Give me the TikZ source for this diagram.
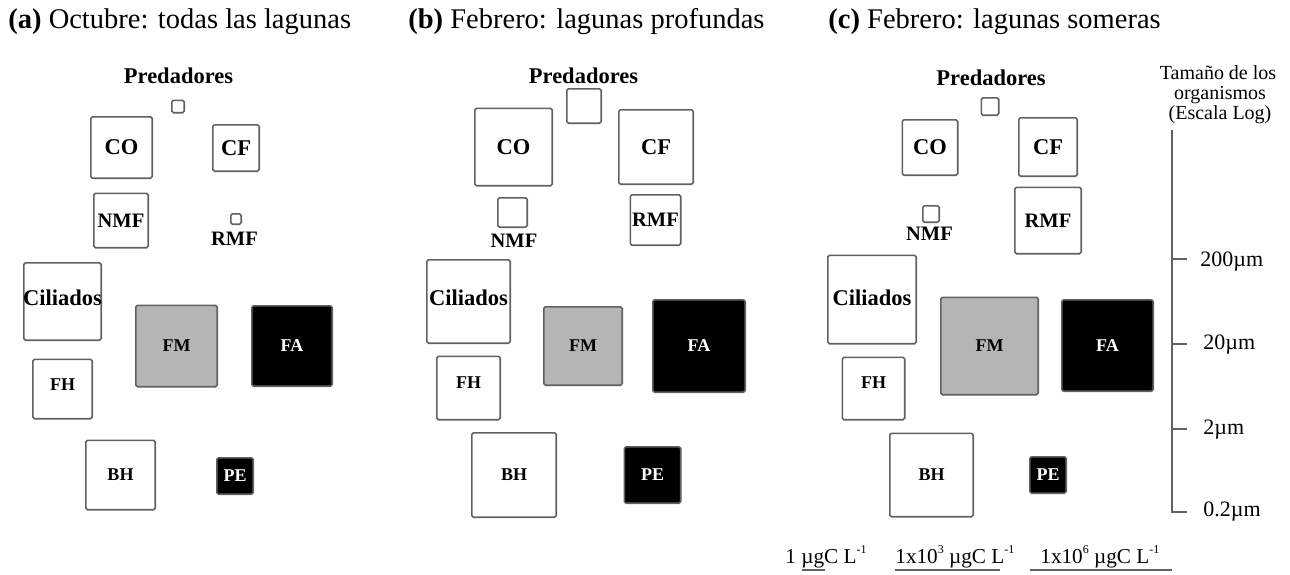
\documentclass[tikz,border=0pt]{standalone}
\usepackage{fontspec}
\setmainfont{Liberation Serif}
\definecolor{bord}{gray}{0.38}
\definecolor{fmgray}{gray}{0.71}
\newcommand{\tinysup}[1]{\raisebox{0.95ex}{\fontsize{6}{6}\selectfont #1}}
\begin{document}
\begin{tikzpicture}[x=0.5pt,y=-0.5pt,
  sq/.style={draw=bord, line width=0.8pt, rounded corners=0.8pt, inner sep=0pt, minimum size=(#1-1.6)*0.5pt},
  big/.style={font=\fontsize{11.25}{13}\selectfont\bfseries},
  mid/.style={font=\fontsize{10.25}{12}\selectfont\bfseries},
  small/.style={font=\fontsize{9}{10}\selectfont\bfseries},
  lbl/.style={inner sep=0pt},
  dark/.style={fill=black, text=white},
  mfill/.style={fill=fmgray},
  ttl/.style={anchor=base west, inner sep=0pt, font=\fontsize{14.25}{17}\selectfont},
  axl/.style={anchor=base west, inner sep=0pt, font=\fontsize{11}{13}\selectfont},
  tam/.style={anchor=base, inner sep=0pt, font=\fontsize{10}{12}\selectfont},
  leg/.style={anchor=base west, inner sep=0pt, font=\fontsize{10.6}{12}\selectfont},
  axis/.style={draw=bord, line width=0.8pt},
  uline/.style={draw=bord, line width=0.7pt}]
\useasboundingbox (0,0) rectangle (1290,574);

% titles
\node[ttl] (ta) at (8,28) {\textbf{(a)} Octubre: todas las lagunas};
\node[ttl] (tb) at (408,28) {\textbf{(b)} Febrero: lagunas profundas};
\node[ttl] (tc) at (828,28) {\textbf{(c)} Febrero: lagunas someras};

% ---------- panel (a)
\node[lbl,big] (aPredL) at (178.5,76) {Predadores};
\node[sq=14] (aPred) at (178,106.5) {};
\node[sq=63,big] (aCO) at (121.5,147.5) {CO};
\node[sq=48,big] (aCF) at (236,148) {CF};
\node[sq=56,mid] (aNMF) at (121,220.5) {NMF};
\node[sq=12] (aRMF) at (236,219) {};
\node[lbl,mid] (aRMFL) at (234.5,239) {RMF};
\node[sq=79] (aCil) at (62.5,301.5) {};
\node[lbl,big] (aCilL) at (62.5,298) {Ciliados};
\node[sq=83,mfill,small] (aFM) at (176.5,346) {FM};
\node[sq=82,dark,small] (aFA) at (292,346) {FA};
\node[sq=61] (aFH) at (62.5,389) {};
\node[lbl,small] (aFHL) at (62.5,385) {FH};
\node[sq=71,small] (aBH) at (120.5,475) {BH};
\node[sq=38,dark,small] (aPE) at (235,476) {PE};

% ---------- panel (b)
\node[lbl,big] (bPredL) at (583.5,76) {Predadores};
\node[sq=36] (bPred) at (584,106) {};
\node[sq=79,big] (bCO) at (513.5,147) {CO};
\node[sq=76,big] (bCF) at (656,147) {CF};
\node[sq=31] (bNMF) at (512.5,212.5) {};
\node[lbl,mid] (bNMFL) at (514,241) {NMF};
\node[sq=52,mid] (bRMF) at (655.5,220) {RMF};
\node[sq=85] (bCil) at (468.5,301.5) {};
\node[lbl,big] (bCilL) at (468.5,298) {Ciliados};
\node[sq=80,mfill,small] (bFM) at (583,346) {FM};
\node[sq=94,dark,small] (bFA) at (699,346) {FA};
\node[sq=65] (bFH) at (468.5,388) {};
\node[lbl,small] (bFHL) at (468.5,383) {FH};
\node[sq=86,small] (bBH) at (514,475) {BH};
\node[sq=58,dark,small] (bPE) at (652.5,475) {PE};

% ---------- panel (c)
\node[lbl,big] (cPredL) at (991,78) {Predadores};
\node[sq=19] (cPred) at (990,106.5) {};
\node[sq=57,big] (cCO) at (930,147.5) {CO};
\node[sq=60,big] (cCF) at (1048,147) {CF};
\node[sq=18] (cNMF) at (931,214) {};
\node[lbl,mid] (cNMFL) at (929.5,234) {NMF};
\node[sq=68,mid] (cRMF) at (1048,220.5) {RMF};
\node[sq=90] (cCil) at (872,299.5) {};
\node[lbl,big] (cCilL) at (872,298) {Ciliados};
\node[sq=99,mfill,small] (cFM) at (989.5,346) {FM};
\node[sq=93,dark,small] (cFA) at (1107.5,345.5) {FA};
\node[sq=64] (cFH) at (873.5,388.5) {};
\node[lbl,small] (cFHL) at (873.5,383) {FH};
\node[sq=85,small] (cBH) at (931.5,475) {BH};
\node[sq=38,dark,small] (cPE) at (1048,475) {PE};

% ---------- size axis
\node[tam] (tam1) at (1218,79) {Tamaño de los};
\node[tam] (tam2) at (1220,99) {organismos};
\node[tam] (tam3) at (1220,119) {(Escala Log)};
\coordinate (axTop) at (1172,130);
\coordinate (axBot) at (1172,512);
\coordinate (t0) at (1187,512);
\coordinate (t1a) at (1172,259); \coordinate (t1b) at (1187,259);
\coordinate (t2a) at (1172,344); \coordinate (t2b) at (1187,344);
\coordinate (t3a) at (1172,429); \coordinate (t3b) at (1187,429);
\draw[axis] (axTop) -- (axBot) -- (t0);
\draw[axis] (t1a) -- (t1b);
\draw[axis] (t2a) -- (t2b);
\draw[axis] (t3a) -- (t3b);
\node[axl] (l200) at (1200,266) {200µm};
\node[axl] (l20) at (1203,349) {20µm};
\node[axl] (l2) at (1203,434) {2µm};
\node[axl] (l02) at (1203,516) {0.2µm};

% ---------- legend
\node[leg] (g1) at (785,563) {1 µgC L\tinysup{-1}};
\node[leg] (g2) at (895,563) {1x10\tinysup{3} µgC L\tinysup{-1}};
\node[leg] (g3) at (1040,563) {1x10\tinysup{6} µgC L\tinysup{-1}};
\coordinate (u1a) at (802,570); \coordinate (u1b) at (825,570);
\coordinate (u2a) at (895,570); \coordinate (u2b) at (1000,570);
\coordinate (u3a) at (1030,570); \coordinate (u3b) at (1172,570);
\draw[uline] (u1a) -- (u1b);
\draw[uline] (u2a) -- (u2b);
\draw[uline] (u3a) -- (u3b);
\end{tikzpicture}
\end{document}
